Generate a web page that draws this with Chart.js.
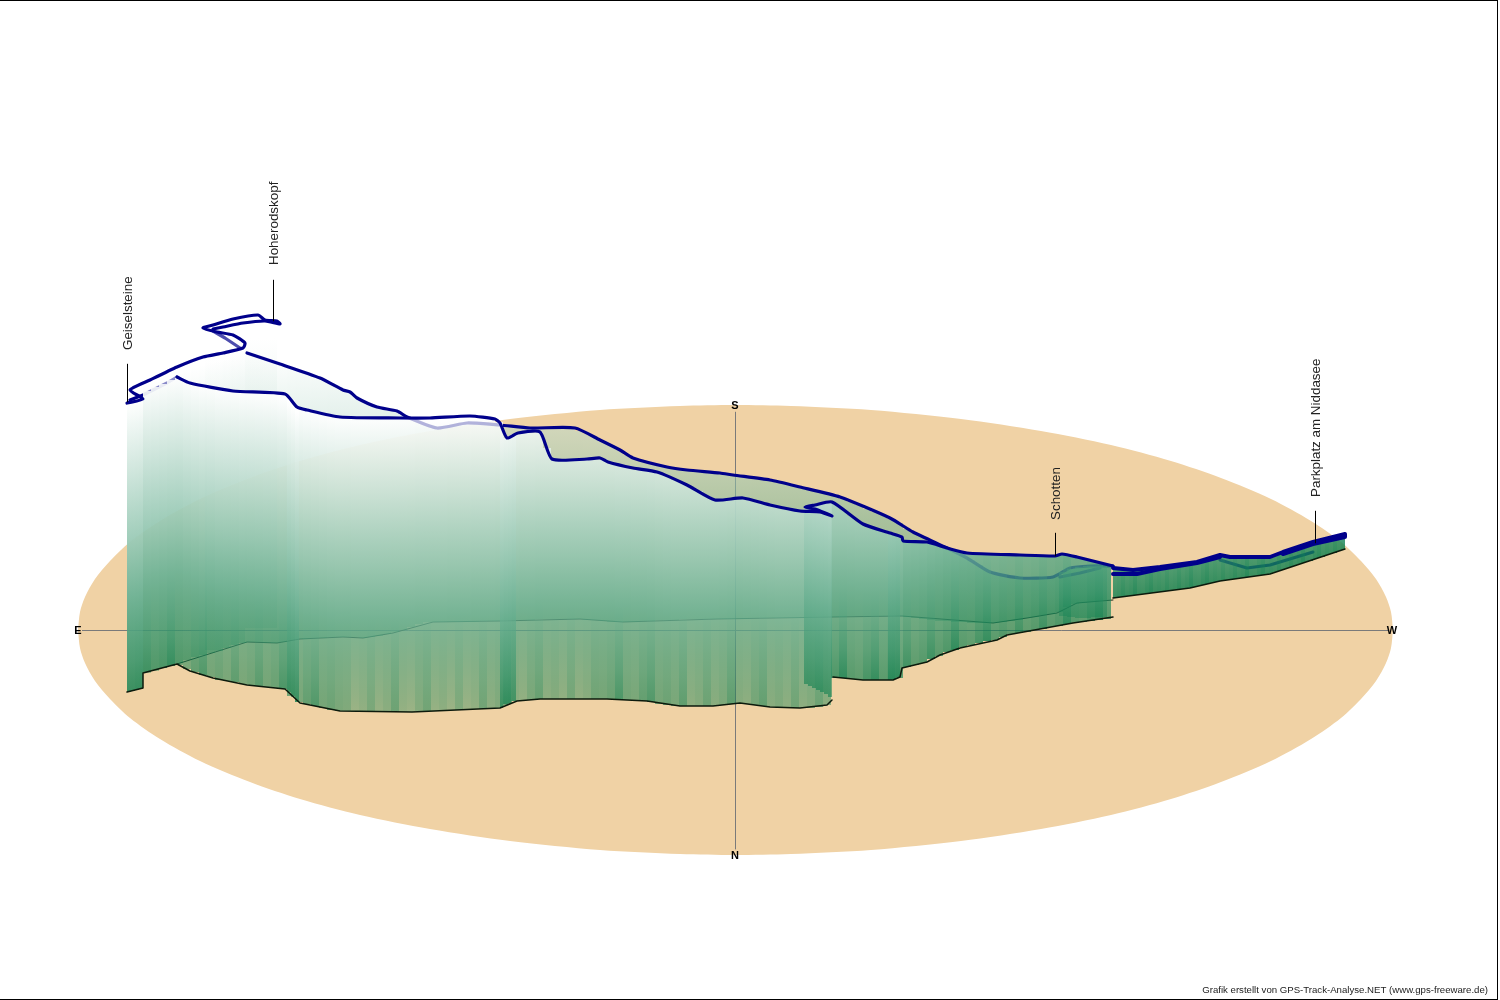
<!DOCTYPE html>
<html>
<head>
<meta charset="utf-8">
<title>GPS-Track 3D</title>
<script src="https://cdn.jsdelivr.net/npm/chart.js@4"></script>
<style>
  html, body { margin: 0; background: #fff; }
  #wrap { width: 1500px; height: 1000px; position: relative; }
  #wrap:after { content: ""; position: absolute; left: 0; top: 0; width: 1497px; height: 998px; border: 1px solid #000; border-left: 0; }
  canvas { display: block; }
</style>
</head>
<body>
<div id="wrap"><canvas id="grafik" width="1500" height="1000"></canvas></div>
<script>
// ground ellipse outline
const groundX = [78, 80, 85, 95, 110, 130, 160, 200, 250, 300, 360, 430, 510, 600, 680, 735, 791, 871, 961, 1041, 1111, 1171, 1221, 1271, 1311, 1341, 1361, 1376, 1386, 1391, 1393];
const groundTop = [630, 612, 597, 579, 561, 542, 521, 499, 478, 461, 445, 431, 419, 410, 406, 405, 406, 410, 419, 431, 445, 461, 478, 499, 521, 542, 561, 579, 597, 612, 630];
const groundBottom = [630, 648, 663, 681, 699, 718, 739, 761, 782, 799, 815, 829, 841, 850, 854, 855, 854, 850, 841, 829, 815, 799, 782, 761, 739, 718, 699, 681, 663, 648, 630];

// curtain columns, main part
const wallX = [
  131, 139, 147, 155, 163, 171, 179, 187, 195, 203,
  211, 219, 227, 235, 243, 251, 259, 267, 275, 283,
  291, 299, 307, 315, 323, 331, 339, 347, 355, 363,
  371, 379, 387, 395, 403, 411, 419, 427, 435, 443,
  451, 459, 467, 475, 483, 491, 499, 507, 515, 523,
  531, 539, 547, 555, 563, 571, 579, 587, 595, 603,
  611, 619, 627, 635, 643, 651, 659, 667, 675, 683,
  691, 699, 707, 715, 723, 731, 739, 747, 755, 763,
  771, 779, 787, 795, 803, 811, 819, 827, 835, 843,
  851, 859, 867, 875, 883, 891, 899, 907, 915, 923,
  931, 939, 947, 955, 963, 971, 979, 987, 995, 1003,
  1011, 1019, 1027, 1035, 1043, 1051, 1059, 1067, 1075, 1083,
  1091, 1099, 1107
];
const frontTop = [
  402, 400, 391, 387, 384, 380, 378, 382, 385, 387,
  388, 389, 390, 391, 392, 392, 392, 393, 393, 394,
  400, 408, 410, 412, 414, 415, 417, 417, 418, 418,
  418, 418, 418, 418, 418, 418, 418, 418, 417, 417,
  417, 416, 416, 416, 417, 417, 422, 438, 434, 433,
  433, 432, 448, 459, 459, 459, 459, 459, 458, 459,
  463, 465, 467, 468, 470, 471, 473, 476, 480, 483,
  487, 491, 496, 500, 499, 499, 498, 499, 501, 503,
  505, 507, 509, 510, 510, 507, 505, 503, 504, 510,
  516, 522, 525, 528, 531, 533, 536, 541, 542, 542,
  544, 546, 548, 550, 552, 553, 553, 554, 554, 555,
  555, 555, 555, 556, 556, 556, 555, 555, 557, 559,
  561, 563, 565
];
const frontBase = [
  691, 689, 672, 670, 668, 666, 665, 669, 672, 675,
  677, 680, 681, 682, 684, 685, 686, 687, 688, 689,
  696, 702, 704, 706, 708, 710, 711, 711, 712, 712,
  712, 712, 712, 712, 712, 712, 711, 711, 711, 711,
  710, 710, 710, 709, 709, 709, 708, 704, 701, 700,
  700, 699, 699, 699, 699, 699, 699, 699, 699, 699,
  699, 700, 700, 701, 701, 702, 704, 705, 706, 706,
  706, 706, 706, 706, 705, 704, 703, 704, 705, 706,
  707, 708, 708, 708, 708, 708, 707, 705, 678, 678,
  679, 680, 680, 680, 680, 680, 678, 667, 665, 663,
  659, 656, 652, 650, 647, 645, 643, 641, 640, 637,
  634, 633, 632, 630, 629, 627, 626, 624, 623, 622,
  621, 620, 619
];
const backTop = [
  381, 378, 375, 371, 366, 362, 360, 357,
  355, 354, 352, 350, 348, 354, 357, 360, 362, 365,
  368, 371, 374, 376, 379, 383, 387, 391, 396, 401,
  404, 408, 409, 411, 415, 419, 422, 425, 428, 426,
  425, 424, 423, 424, 424, 425, 425, 426, 427, 428,
  428, 428, 428, 428, 428, 428, 431, 434, 438, 441,
  445, 450, 455, 459, 461, 464, 466, 467, 469, 470,
  471, 472, 473, 473, 474, 475, 476, 477, 478, 479,
  480, 482, 484, 486, 488, 490, 492, 494, 496, 499,
  502, 505, 509, 512, 515, 519, 523, 529, 533, 537,
  541, 545, 548, 552, 556, 560, 565, 570, 573, 575,
  577, 578, 578, 578, 578, 577, 575, 570, 567, 566,
  566, 566, 566
];
const backBase = [
  673, 671, 668, 665, 663, 660, 657, 655,
  653, 651, 648, 645, 643, 642, 642, 643, 643, 642,
  640, 639, 639, 638, 638, 637, 637, 637, 637, 638,
  637, 636, 634, 632, 630, 627, 624, 622, 622, 622,
  622, 622, 622, 622, 621, 621, 621, 620, 620, 620,
  620, 619, 619, 619, 619, 619, 619, 620, 620, 621,
  622, 622, 622, 622, 621, 621, 620, 620, 620, 619,
  619, 619, 619, 619, 619, 619, 619, 619, 618, 618,
  618, 618, 618, 618, 618, 618, 617, 617, 617, 617,
  616, 616, 616, 616, 616, 616, 616, 617, 618, 619,
  620, 621, 621, 622, 622, 623, 623, 623, 623, 622,
  621, 620, 618, 617, 615, 614, 612, 607, 604, 603,
  602, 601, 600
];

// narrow curtain towards the Niddasee
const narrowX = [
  1115, 1119, 1123, 1127, 1131, 1135, 1139, 1143, 1147, 1151,
  1155, 1159, 1163, 1167, 1171, 1175, 1179, 1183, 1187, 1191,
  1195, 1199, 1203, 1207, 1211, 1215, 1219, 1223, 1227, 1231,
  1235, 1239, 1243, 1247, 1251, 1255, 1259, 1263, 1267, 1271,
  1275, 1279, 1283, 1287, 1291, 1295, 1299, 1303, 1307, 1311,
  1315, 1319, 1323, 1327, 1331, 1335, 1339, 1343
];
const narrowTop = [
  568, 569, 569, 570, 570, 570, 570, 569, 569, 568,
  568, 567, 567, 566, 566, 565, 565, 564, 564, 563,
  562, 561, 560, 559, 558, 556, 555, 556, 557, 557,
  557, 557, 557, 557, 557, 557, 557, 557, 557, 557,
  555, 554, 552, 551, 549, 548, 547, 545, 544, 543,
  542, 541, 540, 539, 537, 536, 535, 535
];
const narrowBase = [
  598, 597, 597, 596, 596, 595, 595, 594, 594, 593,
  592, 592, 591, 591, 590, 590, 589, 589, 588, 588,
  587, 586, 585, 584, 583, 582, 581, 581, 580, 580,
  579, 578, 578, 577, 577, 576, 575, 575, 574, 574,
  572, 571, 570, 568, 567, 566, 564, 563, 562, 561,
  559, 558, 557, 555, 554, 553, 551, 550
];

// short spurs where the track runs twice, they show as denser strips
const spurX = [129, 133, 137, 141, 289, 293, 297, 502, 506, 510, 514, 806, 810, 814, 818, 822, 826, 830, 890, 894, 898];
const spurTop = [403, 402, 401, 399, 398, 403, 407, 428, 438, 436, 434, 507, 507, 506, 505, 504, 503, 502, 534, 535, 537];
const spurBase = [692, 691, 690, 688, 692, 697, 702, 707, 705, 703, 701, 684, 686, 688, 690, 692, 694, 697, 680, 679, 677];

const loopX = [209, 217, 225, 233, 241, 249, 257, 265, 273];
const loopTop = [327, 327, 325, 323, 323, 321, 319, 321, 322];
const loopBase = [650, 650, 648, 645, 643, 628, 628, 628, 628];

const townX = [1063, 1071, 1079, 1087, 1095, 1103];
const townTop = [572, 569, 567, 566, 566, 566];
const townBase = [616, 617, 618, 618, 617, 617];

// track, [east-west, south-north] as seen on the picture
const trackUpper = [[127, 403], [143, 399], [130, 390], [150, 380], [177, 367], [203, 357], [223, 353], [243, 348], [245, 343], [233, 335], [217, 332], [203, 328], [213, 325], [233, 319], [258, 315], [265, 320], [277, 321], [280, 324], [265, 321], [243, 323], [223, 327], [213, 329]];
const trackHidden = [[213, 331], [225, 338], [240, 348]];
const trackBack = [[247, 353], [280, 364], [320, 378], [343, 390], [350, 392], [357, 398], [377, 407], [397, 411], [407, 417], [437, 428], [467, 423], [500, 425], [530, 428], [575, 428], [600, 440], [620, 450], [633, 458], [667, 467], [687, 470], [720, 473], [733, 475], [770, 480], [800, 487], [840, 497], [890, 518], [913, 532], [947, 548], [967, 558], [990, 572], [1020, 578], [1053, 577], [1070, 568], [1090, 566], [1113, 566]];
const trackBack2 = [[1060, 577], [1080, 573], [1100, 568]];
const trackBackVeil = [[407, 417], [437, 428], [467, 423], [500, 425]];
const trackHidden2 = [[130, 400], [143, 395], [167, 383], [177, 377]];
const trackFront = [[177, 377], [190, 383], [233, 391], [285, 394], [297, 407], [307, 410], [340, 417], [400, 418], [430, 418], [470, 416], [495, 419], [500, 423], [507, 438], [518, 433], [540, 432], [552, 459], [587, 459], [600, 458], [608, 462], [633, 468], [657, 472], [687, 485], [715, 500], [743, 498], [770, 505], [800, 511], [820, 512], [832, 516], [815, 509], [805, 507], [815, 505], [832, 502], [863, 524], [890, 533], [902, 537], [903, 541], [927, 542], [947, 548], [967, 553], [1020, 555], [1055, 556], [1062, 554], [1077, 557], [1113, 566]];
const trackRight = [[1113, 568], [1133, 570], [1160, 567], [1197, 562], [1220, 555], [1230, 557], [1270, 557], [1283, 552], [1313, 542], [1345, 534], [1345, 537], [1313, 544], [1283, 554]];
const trackRight2 = [[1113, 574], [1137, 574], [1160, 569], [1197, 563], [1220, 557]];
const trackRightHidden = [[1220, 560], [1247, 568], [1270, 565], [1313, 552]];

// bottom edges
const baseFront = [[127, 692], [143, 688], [143, 673], [177, 664], [190, 671], [213, 678], [247, 685], [285, 689], [300, 703], [340, 711], [412, 712], [500, 708], [517, 701], [540, 699], [607, 699], [647, 701], [680, 706], [713, 706], [740, 703], [770, 707], [800, 708], [827, 705], [832, 700]];
const baseFront2 = [[833, 677], [863, 680], [893, 680], [900, 677], [902, 668], [927, 662], [940, 655], [960, 648], [997, 640], [1007, 635], [1040, 629], [1073, 623], [1113, 617]];
const baseNarrow = [[1113, 598], [1190, 588], [1220, 581], [1270, 574], [1345, 549]];
const baseBack = [[177, 664], [247, 642], [277, 643], [300, 639], [343, 637], [363, 638], [393, 633], [433, 622], [500, 621], [580, 619], [623, 622], [717, 619], [833, 617], [902, 616], [993, 623], [1027, 618], [1057, 613], [1077, 603], [1113, 600]];

// compass
const axisEW = [[82, 630.5], [1388, 630.5]];
const axisNS = [[735.5, 412], [735.5, 849]];
const compassLabels = ['E', 'W', 'S', 'N'];
const compassX = [78, 1392, 735, 735];
const compassY = [631, 631, 406, 856];

// places with their leader lines
const placeLabels = ['Geiselsteine', 'Hoherodskopf', 'Schotten', 'Parkplatz am Niddasee'];
const placeX = [127.5, 273.5, 1055.5, 1315.5];
const placeFrom = [402, 321, 556, 543];
const placeTo = [364, 280, 533, 511];
const placeTextY = [350, 265, 520, 497];

const creditText = 'Grafik erstellt von GPS-Track-Analyse.NET (www.gps-freeware.de)';

const navy = '#00008B';
const stripes = [0, 0.04, 0.14, 0.02, 0.07, 0.2, 0.03, 0, 0.1, 0.18, 0.02, 0.06, 0, 0.12];

function pts(list) {
  return list.map(p => ({ x: p[0], y: p[1] }));
}

function columns(xs, bases, tops) {
  return xs.map((x, i) => ({ x: x, y: [bases[i], tops[i]] }));
}

function mix(h) {
  // h 0..1 over the height of the curtain
  const k = Math.pow(h, 0.8);
  const r = Math.round(8 + (255 - 8) * k);
  const g = Math.round(125 + (255 - 125) * k);
  const b = Math.round(76 + (255 - 76) * k);
  return [r, g, b];
}

function wallFill(density, stripeGain, cap) {
  return function (c) {
    const raw = c.raw;
    if (!raw || !raw.y) return 'transparent';
    const y = c.chart.scales.y;
    const y0 = y.getPixelForValue(raw.y[0]);
    // scale is not laid out yet on the first pass
    if (!isFinite(y0)) return 'transparent';
    let a = typeof density === 'function' ? density(raw.x) : density;
    a += stripeGain * stripes[c.dataIndex % stripes.length];
    const g = c.chart.ctx.createLinearGradient(0, y0, 0, y0 - 290);
    [0, 0.1, 0.2, 0.33, 0.5, 0.75, 1].forEach(h => {
      const m = mix(h);
      const al = Math.min(1, a + (Math.max(a, cap) - a) * Math.min(1, h * 3));
      g.addColorStop(h, 'rgba(' + m.join(',') + ',' + al + ')');
    });
    return g;
  };
}

function frontDensity(x) {
  if (x < 340) return 0.5;
  if (x < 480) return 0.36;
  if (x < 600) return 0.4;
  if (x < 690) return 0.5;
  if (x < 835) return 0.42;
  return 0.62;
}

function wall(name, data, thick, density, stripeGain, cap) {
  return {
    type: 'bar', label: name, data: data, barThickness: thick, grouped: false,
    backgroundColor: wallFill(density, stripeGain, cap), borderWidth: 0, borderSkipped: false, inflateAmount: 0
  };
}

function line(name, list, color, width, tension) {
  return {
    type: 'scatter', label: name, data: pts(list), showLine: true, borderColor: color,
    borderWidth: width, pointRadius: 0, tension: tension || 0, fill: false,
    borderJoinStyle: 'round', borderCapStyle: 'round'
  };
}

const paintOrder = [
  {
    type: 'scatter', label: 'ground top', data: groundX.map((x, i) => ({ x: x, y: groundTop[i] })), showLine: true,
    pointRadius: 0, borderWidth: 0, tension: 0.3, fill: '+1', backgroundColor: '#F0D2A5'
  },
  {
    type: 'scatter', label: 'ground bottom', data: groundX.map((x, i) => ({ x: x, y: groundBottom[i] })), showLine: true,
    pointRadius: 0, borderWidth: 0, tension: 0.3, fill: false
  },
  line('EW', axisEW, '#7a7a7a', 1),
  line('NS', axisNS, '#7a7a7a', 1),
  line('hidden 1', trackHidden, navy, 3.2),
  line('hidden 2', trackHidden2, navy, 3.2),
  line('base back', baseBack, '#1c2a1c', 1),
  wall('back', columns(wallX.slice(2), backBase, backTop), 8, 0.32, 0, 0.55),
  wall('loop', columns(loopX, loopBase, loopTop), 8, 0.16, 0, 0.3),
  line('track back', trackBack, navy, 3.2, 0.2),
  line('track back 2', trackBack2, navy, 3.2),
  line('track right hidden', trackRightHidden, navy, 3),
  wall('town', columns(townX, townBase, townTop), 8, 0.4, 0, 0.5),
  wall('front', columns(wallX, frontBase, frontTop), 8, frontDensity, 1, 0.86),
  wall('narrow', columns(narrowX, narrowBase, narrowTop), 4, 0.78, 0.4, 0.78),
  wall('spurs', columns(spurX, spurBase, spurTop), 4, 0.55, 0, 0.7),
  line('veil', trackBackVeil, 'rgba(0,0,139,0.18)', 3.2, 0.2),
  line('base front', baseFront, '#0c1a0c', 1.5),
  line('base front 2', baseFront2, '#0c1a0c', 1.5),
  line('base narrow', baseNarrow, '#0c1a0c', 1.5),
  line('track front', trackFront, navy, 3.2, 0.2),
  line('track upper', trackUpper, navy, 3.2, 0.2),
  line('track right', trackRight, navy, 4),
  line('track right 2', trackRight2, navy, 4)
];

placeLabels.forEach((name, i) => {
  paintOrder.push(line(name, [[placeX[i], placeFrom[i]], [placeX[i], placeTo[i]]], '#000', 1));
});

// lower order sits on top in Chart.js
paintOrder.forEach((d, i) => { d.order = paintOrder.length - i; });

const textPlugin = {
  id: 'texte',
  afterDatasetsDraw(chart) {
    const { ctx, scales: { x, y } } = chart;
    ctx.save();
    ctx.fillStyle = '#000';
    ctx.textAlign = 'center';
    ctx.textBaseline = 'middle';
    ctx.font = 'bold 11px "Liberation Sans"';
    compassLabels.forEach((t, i) => {
      ctx.fillText(t, x.getPixelForValue(compassX[i]), y.getPixelForValue(compassY[i]));
    });
    ctx.font = '13.4px "Liberation Sans"';
    ctx.fillStyle = '#222';
    placeLabels.forEach((t, i) => {
      ctx.save();
      ctx.translate(x.getPixelForValue(placeX[i]) + 1, y.getPixelForValue(placeTextY[i]));
      ctx.rotate(-Math.PI / 2);
      ctx.textAlign = 'left';
      ctx.fillText(t, 0, 0);
      ctx.restore();
    });
    ctx.font = '9.65px "Liberation Sans"';
    ctx.textAlign = 'right';
    ctx.fillText(creditText, x.getPixelForValue(1488), y.getPixelForValue(990));
    ctx.restore();
  }
};

new Chart(document.querySelector('#grafik'), {
  type: 'scatter',
  data: { datasets: paintOrder },
  options: {
    responsive: false,
    animation: false,
    layout: { padding: 0 },
    plugins: { legend: { display: false }, tooltip: { enabled: false } },
    scales: {
      x: { type: 'linear', min: 0, max: 1500, display: false, offset: false },
      y: { type: 'linear', min: 0, max: 1000, reverse: true, display: false }
    }
  },
  plugins: [textPlugin]
});
</script>
</body>
</html>
